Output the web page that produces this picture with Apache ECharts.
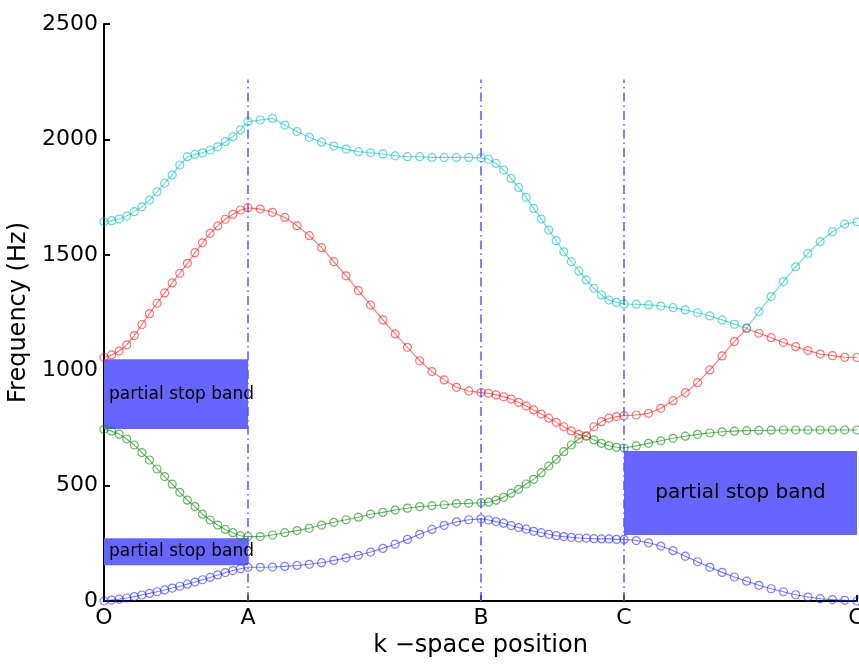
<!DOCTYPE html>
<html>
<head>
<meta charset="utf-8">
<script src="https://cdn.jsdelivr.net/npm/echarts@6/dist/echarts.min.js"></script>
<style>
html,body{margin:0;padding:0;background:#fff;}
#chart{width:859px;height:664px;}
</style>
</head>
<body>
<div id="chart"></div>
<script>
// ---- data ----
const tickNames = ['O', 'A', 'B', 'C', 'O'];
const tickPos = [0, 1, 2.618, 3.611, 5.229];
const stepsPerSegment = 19;

// band 1 (blue)
const blueOA = [0,4,8,13,19,26,33,40,48,56,64,73,82,92,102,113,123,132,140,146];
const blueAB = [146,146,147,150,154,159,166,176,187,198,212,228,246,267,289,310,328,343,352,356];
const blueBC = [356,351,344,337,327,318,311,302,296,289,283,279,276,273,272,270,269,269,267,267];
const blueCO = [267,262,252,238,218,194,170,146,124,104,86,68,53,40,27,17,10,6,3,0];
// band 2 (green)
const greenOA = [744,736,723,702,676,643,611,572,539,506,471,437,409,376,351,329,310,296,283,279];
const greenAB = [279,279,286,296,305,315,329,341,352,363,376,384,394,402,409,413,417,422,423,426];
const greenBC = [426,428,437,449,467,484,507,527,556,585,614,647,676,702,715,698,683,673,666,663];
const greenCO = [663,672,683,694,705,714,722,728,733,736,738,739,740,741,741,741,741,741,741,741];
// band 3 (red)
const redOA = [1055,1066,1083,1110,1150,1198,1245,1290,1335,1378,1420,1463,1509,1552,1593,1625,1654,1675,1694,1704];
const redAB = [1704,1698,1684,1662,1626,1583,1531,1470,1409,1345,1282,1218,1157,1099,1041,994,958,926,910,903];
const redBC = [903,900,893,885,875,861,845,828,810,792,774,755,737,722,715,755,777,792,799,803];
const redCO = [803,806,813,835,868,903,946,1001,1062,1124,1181,1160,1141,1120,1102,1085,1070,1063,1056,1055];
// band 4 (cyan)
const cyanOA = [1643,1648,1655,1668,1687,1708,1737,1773,1810,1846,1889,1925,1935,1942,1954,1968,1990,2012,2041,2077];
const cyanAB = [2077,2084,2091,2062,2034,2009,1988,1971,1958,1947,1942,1937,1929,1925,1925,1922,1922,1922,1922,1920];
const cyanBC = [1920,1914,1896,1867,1831,1792,1749,1701,1655,1607,1561,1513,1470,1430,1391,1355,1326,1304,1294,1287];
const cyanCO = [1287,1286,1283,1278,1271,1261,1249,1235,1218,1199,1183,1254,1319,1384,1448,1506,1557,1600,1633,1643];

// partial stop bands (frequency range, from/to symmetry point index)
const stopLow = [745, 155, 286];
const stopHigh = [1047, 272, 650];
const stopFrom = [0, 0, 3];
const stopTo = [1, 1, 4];
const stopText = ['partial stop band', 'partial stop band', 'partial stop band'];

// vertical symmetry-point markers
const markerPoints = [1, 2, 3];
const markerTop = 2260;

// ---- build ----
function buildBand(segs) {
  const out = [];
  segs.forEach((seg, s) => {
    const x0 = tickPos[s], x1 = tickPos[s + 1];
    seg.forEach((v, i) => {
      if (s > 0 && i === 0) return;
      out.push([x0 + (x1 - x0) * i / stepsPerSegment, v]);
    });
  });
  return out;
}

const bands = [
  { data: buildBand([blueOA, blueAB, blueBC, blueCO]), color: 'rgba(40,40,255,0.6)' },
  { data: buildBand([greenOA, greenAB, greenBC, greenCO]), color: 'rgba(0,135,0,0.6)' },
  { data: buildBand([redOA, redAB, redBC, redCO]), color: 'rgba(255,20,20,0.6)' },
  { data: buildBand([cyanOA, cyanAB, cyanBC, cyanCO]), color: 'rgba(0,190,190,0.6)' }
];

const FONT = 'DejaVu Sans';

const series = bands.map(b => ({
  type: 'line',
  data: b.data,
  clip: false,
  symbol: 'circle',
  symbolSize: 8,
  smooth: false,
  lineStyle: { color: b.color, width: 1.1 },
  itemStyle: { color: 'rgba(255,255,255,0)', borderColor: b.color, borderWidth: 1.2 },
  emphasis: { disabled: true },
  z: 3
}));

series.unshift({
  type: 'line',
  data: [],
  silent: true,
  z: 1,
  markArea: {
    silent: true,
    itemStyle: { color: '#6666ff', opacity: 1 },
    data: stopLow.map((lo, i) => [
      {
        coord: [tickPos[stopFrom[i]], stopHigh[i]],
        label: {
          show: true,
          formatter: stopText[i],
          position: i < 2 ? 'insideLeft' : 'inside',
          distance: 5,
          color: '#000',
          fontFamily: FONT,
          fontSize: i < 2 ? 17 : 20
        }
      },
      { coord: [tickPos[stopTo[i]], lo] }
    ])
  },
  markLine: {
    silent: true,
    symbol: 'none',
    label: { show: false },
    lineStyle: { color: '#5555ff', width: 1.5, type: [9, 4, 1.5, 4] },
    data: markerPoints.map(k => [
      { coord: [tickPos[k], 0] },
      { coord: [tickPos[k], markerTop] }
    ])
  }
});

const chart = echarts.init(document.getElementById('chart'), null, { renderer: 'canvas' });
chart.setOption({
  animation: false,
  backgroundColor: '#fff',
  grid: { left: 104, right: 2, top: 24, bottom: 63, containLabel: false, outerBoundsMode: 'none' },
  xAxis: {
    type: 'value',
    min: tickPos[0],
    max: tickPos[tickPos.length - 1],
    name: 'k \u2212space position',
    nameLocation: 'middle',
    nameGap: 29,
    nameTextStyle: { color: '#000', fontFamily: FONT, fontSize: 24 },
    axisLine: { show: true, onZero: false, lineStyle: { color: '#000', width: 2 } },
    axisTick: { show: true, inside: true, length: 6, customValues: tickPos, lineStyle: { color: '#000', width: 2 } },
    axisLabel: {
      customValues: tickPos,
      showMinLabel: true,
      showMaxLabel: true,
      hideOverlap: false,
      margin: 6,
      color: '#000',
      fontFamily: FONT,
      fontSize: 22,
      formatter: v => {
        let best = 0;
        tickPos.forEach((p, i) => { if (Math.abs(p - v) < Math.abs(tickPos[best] - v)) best = i; });
        return tickNames[best];
      }
    },
    splitLine: { show: false }
  },
  yAxis: {
    type: 'value',
    min: 0,
    max: 2500,
    interval: 500,
    name: 'Frequency (Hz)',
    nameLocation: 'middle',
    nameGap: 64,
    nameTextStyle: { color: '#000', fontFamily: FONT, fontSize: 24 },
    axisLine: { show: true, lineStyle: { color: '#000', width: 2 } },
    axisTick: { show: true, inside: true, length: 6, lineStyle: { color: '#000', width: 2 } },
    axisLabel: { margin: 6, color: '#000', fontFamily: FONT, fontSize: 22, formatter: v => String(v) },
    splitLine: { show: false }
  },
  series: series
});
</script>
</body>
</html>
